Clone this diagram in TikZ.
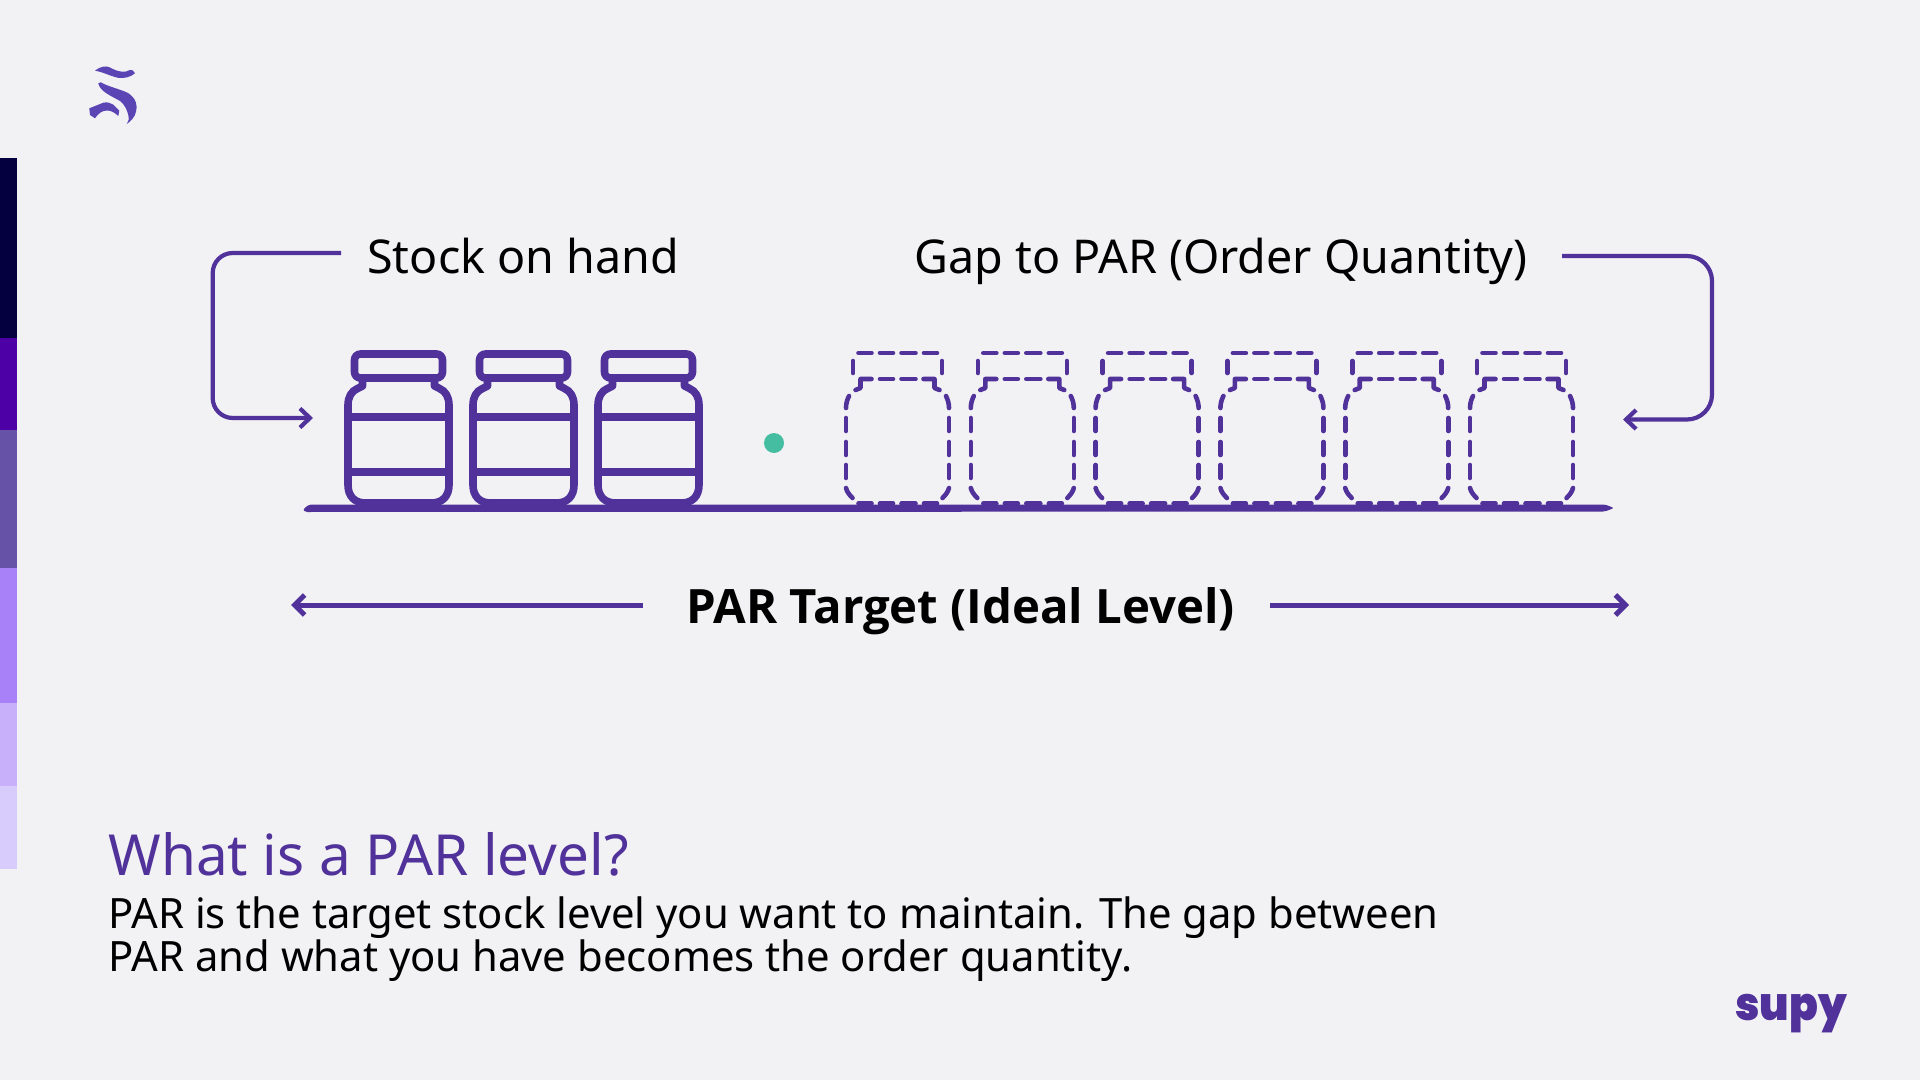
\documentclass[tikz,border=0pt]{standalone}
\usepackage{fontspec}
\usetikzlibrary{arrows.meta}
\setmainfont{Noto Sans}
\newfontfamily\parbold{Open Sans}
\newfontfamily\supyfont{Poppins}[BoldFont={Poppins Black}]
\definecolor{bgc}{HTML}{F2F2F5}
\definecolor{ink}{HTML}{50329A}
\definecolor{logoc}{HTML}{5B45B5}
\definecolor{dotc}{HTML}{44BDA0}
\definecolor{barA}{HTML}{04003F}
\definecolor{barB}{HTML}{4D00A5}
\definecolor{barC}{HTML}{6653A8}
\definecolor{barD}{HTML}{A880F8}
\definecolor{barE}{HTML}{C9B0FB}
\definecolor{barF}{HTML}{D8CCFD}
\tikzset{
  x=0.5pt,y=-0.5pt,
  barseg/.style={fill=#1,draw=none},
  jarline/.style={draw=ink,line width=3.8pt,line join=round},
  dashline/.style={draw=ink,line width=2.3pt,line cap=round,line join=round},
  bracket/.style={draw=ink,line width=2.1pt,-{Straight Barb[length=5pt,width=9.5pt,line width=2.1pt]}},
  spanarrow/.style={draw=ink,line width=2.5pt,-{Straight Barb[length=5pt,width=10pt,line width=2.5pt]}},
  labeltext/.style={anchor=base west,inner sep=0pt,font=\fontsize{23.3}{28}\selectfont,text=black},
  boldtext/.style={anchor=base,inner sep=0pt,font=\parbold\bfseries\fontsize{23.67}{28}\selectfont,text=black},
  titletext/.style={anchor=base west,inner sep=0pt,font=\fontsize{28.3}{34}\selectfont,text=ink},
  bodytext/.style={anchor=base west,inner sep=0pt,font=\fontsize{20.9}{26}\selectfont,text=black},
  solidjar/.pic={
    \draw[jarline,rounded corners=3pt] (-44,354) rectangle (44,378);
    \draw[jarline] (-36,378) -- (-36,386) -- (-41,388.5) .. controls (-47,391) and (-50.5,397) .. (-50.5,405)
      -- (-50.5,485) .. controls (-50.5,496) and (-44,503) .. (-33,503) -- (33,503)
      .. controls (44,503) and (50.5,496) .. (50.5,485) -- (50.5,405)
      .. controls (50.5,397) and (47,391) .. (41,388.5) -- (36,386) -- (36,378);
    \draw[jarline] (-50.5,417) -- (50.5,417);
    \draw[jarline] (-50.5,472) -- (50.5,472);
  },
  dashjar/.pic={
    \foreach \yy in {353,379,503.5}{
      \draw[dashline] (-17.5,\yy) -- (-4.5,\yy);
      \draw[dashline] (4,\yy) -- (18,\yy);
    }
    \foreach \yy in {353,503.5}{
      \draw[dashline] (-39,\yy) -- (-26,\yy);
      \draw[dashline] (26.5,\yy) -- (39.5,\yy);
    }
    \foreach \s in {-1,1}{
      \draw[dashline] (\s*44.5,361) -- (\s*44.5,373);
      \draw[dashline] (\s*26,379) -- (\s*37,379) -- (\s*37,388) -- (\s*42,390);
      \draw[dashline] (\s*48.5,396) .. controls (\s*50.5,400) and (\s*51.5,404) .. (\s*51.5,408);
      \draw[dashline] (\s*51.5,418) -- (\s*51.5,431);
      \draw[dashline] (\s*51.5,442) -- (\s*51.5,455);
      \draw[dashline] (\s*51.5,465) -- (\s*51.5,478);
      \draw[dashline] (\s*51.5,488) .. controls (\s*50.5,492) and (\s*48,495) .. (\s*45,498);
    }
  },
}
\begin{document}
\begin{tikzpicture}
\useasboundingbox (0,0) rectangle (1920,1080);
\fill[bgc] (0,0) rectangle (1920,1080);
% left colour bar
\fill[barseg=barA] (0,158) rectangle (17,338);
\fill[barseg=barB] (0,338) rectangle (17,430);
\fill[barseg=barC] (0,430) rectangle (17,568);
\fill[barseg=barD] (0,568) rectangle (17,703);
\fill[barseg=barE] (0,703) rectangle (17,786);
\fill[barseg=barF] (0,786) rectangle (17,869);
% logo
\fill[logoc] (95,70.7) .. controls (101,66) and (106,65.5) .. (110,67.5) .. controls (118,72) and (125,73) .. (130,70) .. controls (133,69) and (133,71) .. (135,73.3) .. controls (130,77.5) and (124,78.5) .. (118,77.8) .. controls (110,76) and (103,72) .. (95,70.7) -- cycle;
\fill[logoc] (98.3,83.3) -- (100.7,82.3) .. controls (109,87) and (120,89) .. (128,93) .. controls (136,98) and (138,106) .. (136,111.7) .. controls (135,117) and (131,121) .. (126.7,124) .. controls (129,120) and (129.5,118) .. (128.3,115) .. controls (127,110) and (125,105) .. (120,101) .. controls (113,96.7) and (100,92) .. (98.3,83.3) -- cycle;
\fill[logoc] (89.3,108.3) -- (103.3,102.7) .. controls (107,102) and (110,102.5) .. (113,104.5) -- (119.3,110.7) -- (118.3,116) .. controls (115,113) and (112,111) .. (108,110.5) .. controls (102,110) and (98,114) .. (95,118.3) -- (90,115) -- cycle;
% shelf
\fill[ink,rounded corners=1pt] (303,509.5) -- (309,504.5) -- (1605,504.5) -- (1614,508) -- (1605,511.5) -- (305,512) -- cycle;
% jars
\pic at (398.5,0) {solidjar};
\pic at (523.5,0) {solidjar};
\pic at (648.5,0) {solidjar};
\pic at (897.5,0) {dashjar};
\pic at (1022.3,0) {dashjar};
\pic at (1147.1,0) {dashjar};
\pic at (1271.9,0) {dashjar};
\pic at (1396.7,0) {dashjar};
\pic at (1521.5,0) {dashjar};
\fill[dotc] (774,443) circle (5pt);
% labels
\node[labeltext] (stock) at (367,273.5) {Stock on hand};
\node[labeltext] (gap) at (914,273.5) {Gap to PAR (Order Quantity)};
\node[boldtext] (par) at (960.5,623) {PAR Target (Ideal Level)};
\node[titletext] (title) at (108,875) {What is a PAR level?};
\node[bodytext] (bodya) at (108,928) {PAR is the target stock level you want to maintain. The gap between};
\node[bodytext] (bodyb) at (108,971) {PAR and what you have becomes the order quantity.};
\node[anchor=base,inner sep=0pt,text=ink,xscale=0.92,font=\supyfont\bfseries\fontsize{23}{26}\selectfont] (supy) at (1791,1020) {supy};
% connectors
\coordinate (la) at (341,253);
\coordinate (lb) at (212.7,253);
\coordinate (lc) at (212.7,418);
\coordinate (ld) at (313,418);
\draw[bracket,rounded corners=10pt] (la) -- (lb) -- (lc) -- (ld);
\coordinate (ra) at (1562,256);
\coordinate (rb) at (1712,256);
\coordinate (rc) at (1712,419.5);
\coordinate (rd) at (1623,419.5);
\draw[bracket,rounded corners=12.5pt] (ra) -- (rb) -- (rc) -- (rd);
\coordinate (pl) at (643,605);
\coordinate (plend) at (291,605);
\coordinate (pr) at (1270,605);
\coordinate (prend) at (1629,605);
\draw[spanarrow] (pl) -- (plend);
\draw[spanarrow] (pr) -- (prend);
\end{tikzpicture}
\end{document}
